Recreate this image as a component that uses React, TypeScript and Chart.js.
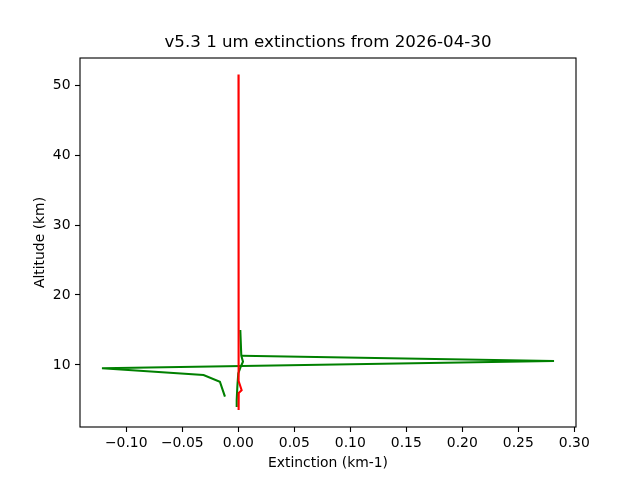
import React, { useEffect, useRef } from "react";
import { Chart, registerables } from "chart.js";

Chart.register(...registerables);

const TITLE = "v5.3 1 um extinctions from 2026-04-30";
const X_LABEL = "Extinction (km-1)";
const Y_LABEL = "Altitude (km)";

const xTicks = [-0.1, -0.05, 0.0, 0.05, 0.1, 0.15, 0.2, 0.25, 0.3];
const yTicks = [10, 20, 30, 40, 50];

// Red profile
const redAlt = [51.5, 40, 30, 20, 10, 7.7, 6.4, 6.0, 3.57];
const redExt = [0.0002, 0.0002, 0.0002, 0.0002, 0.0003, 0.0006, 0.003, 0.0004, 0.0003];

// Green profile (near-zero part)
const greenAltA = [15.0, 11.33, 10.47, 9.75, 8.8, 7.0, 5.0, 4.0];
const greenExtA = [0.0018, 0.0027, 0.0042, 0.0022, 0.0, -0.0008, -0.0014, -0.0014];

// Green profile (spike part)
const greenAltB = [11.33, 10.57, 9.53, 8.57, 7.61, 5.47];
const greenExtB = [0.0027, 0.2819, -0.1217, -0.031, -0.0164, -0.0119];

const X_MIN = -0.1413;
const X_MAX = 0.3015;
const Y_MIN = 1.14;
const Y_MAX = 53.86;

const FONT = "DejaVu Sans";

function pts(xs: number[], ys: number[]) {
  return xs.map((x, i) => ({ x, y: ys[i] }));
}

function fmtX(v: number) {
  const s = v.toFixed(2);
  return s.startsWith("-") ? "\u2212" + s.slice(1) : s;
}

const framePlugin = {
  id: "frame",
  afterDraw(chart: any) {
    const { ctx, chartArea } = chart;
    ctx.save();
    ctx.strokeStyle = "#000";
    ctx.lineWidth = 1.11;
    ctx.strokeRect(chartArea.left, chartArea.top, chartArea.right - chartArea.left, chartArea.bottom - chartArea.top);
    ctx.restore();
  },
};

export default function App() {
  const ref = useRef<HTMLCanvasElement | null>(null);
  useEffect(() => {
    if (!ref.current) return;
    const lw = 2.08;
    const chart = new Chart(ref.current, {
      type: "scatter",
      data: {
        datasets: [
          {
            data: pts(redExt, redAlt),
            borderColor: "#ff0000",
            backgroundColor: "#ff0000",
            showLine: true,
            pointRadius: 0,
            borderWidth: lw,
            tension: 0,
          },
          {
            data: pts(greenExtA, greenAltA),
            borderColor: "#008000",
            backgroundColor: "#008000",
            showLine: true,
            pointRadius: 0,
            borderWidth: lw,
            tension: 0,
          },
          {
            data: pts(greenExtB, greenAltB),
            borderColor: "#008000",
            backgroundColor: "#008000",
            showLine: true,
            pointRadius: 0,
            borderWidth: lw,
            tension: 0,
          },
        ],
      },
      options: {
        animation: false,
        responsive: false,
        devicePixelRatio: 1,
        layout: { padding: { left: 0, right: 64, top: 0, bottom: 0 } },
        plugins: {
          legend: { display: false },
          tooltip: { enabled: false },
          title: {
            display: true,
            text: TITLE,
            color: "#000",
            fullSize: false,
            font: { family: FONT, size: 16.67, weight: "normal", lineHeight: 1.2 },
            padding: { top: 33, bottom: 5 },
          },
        },
        scales: {
          x: {
            type: "linear",
            min: X_MIN,
            max: X_MAX,
            afterBuildTicks: (s: any) => {
              s.ticks = xTicks.map((v) => ({ value: v }));
            },
            afterFit: (s: any) => {
              s.height = 53;
            },
            border: { display: false },
            grid: {
              display: true,
              drawOnChartArea: false,
              drawTicks: true,
              tickLength: 5,
              tickColor: "#000",
              tickWidth: 1.11,
            },
            ticks: {
              color: "#000",
              font: { family: FONT, size: 13.9 },
              padding: 3,
              maxRotation: 0,
              autoSkip: false,
              callback: (v: any) => fmtX(Number(v)),
            },
            title: {
              display: true,
              text: X_LABEL,
              color: "#000",
              font: { family: FONT, size: 13.9, lineHeight: 1.2 },
              padding: { top: 0, bottom: 8.7 },
            },
          },
          y: {
            type: "linear",
            min: Y_MIN,
            max: Y_MAX,
            afterBuildTicks: (s: any) => {
              s.ticks = yTicks.map((v) => ({ value: v }));
            },
            afterFit: (s: any) => {
              s.width = 80;
            },
            border: { display: false },
            grid: {
              display: true,
              drawOnChartArea: false,
              drawTicks: true,
              tickLength: 5,
              tickColor: "#000",
              tickWidth: 1.11,
            },
            ticks: {
              color: "#000",
              font: { family: FONT, size: 13.9 },
              padding: 4.5,
              autoSkip: false,
              callback: (v: any) => String(Number(v)),
            },
            title: {
              display: true,
              text: Y_LABEL,
              color: "#000",
              font: { family: FONT, size: 13.9, lineHeight: 1.2 },
              padding: { top: 31.7, bottom: 0 },
            },
          },
        },
      },
      plugins: [framePlugin],
    } as any);
    return () => chart.destroy();
  }, []);
  return (
    <div style={{ position: "absolute", left: 0, top: 0, width: 640, height: 480, background: "#fff" }}>
      <canvas ref={ref} width={640} height={480} />
    </div>
  );
}
